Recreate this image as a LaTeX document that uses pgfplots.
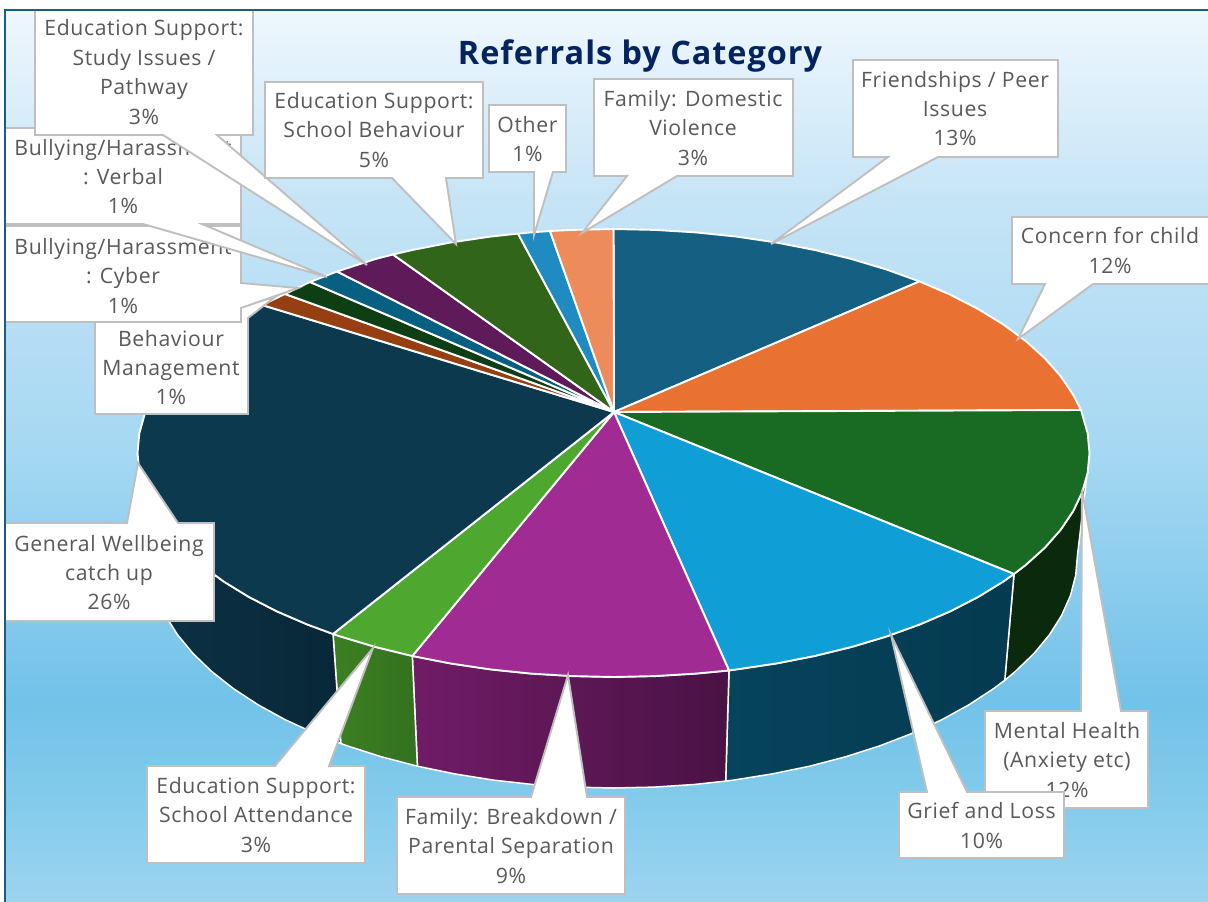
\documentclass[border=0pt]{standalone}
\usepackage{pgfplots}
\pgfplotsset{compat=1.18}
\usepackage{fontspec}
\setmainfont[LetterSpace=3]{Open Sans}
\definecolor{c1}{HTML}{156082}
\definecolor{c2}{HTML}{E97132}
\definecolor{c3}{HTML}{196B24}
\definecolor{c4}{HTML}{0F9ED5}
\definecolor{c5}{HTML}{A02B93}
\definecolor{c6}{HTML}{4EA72E}
\definecolor{c7}{HTML}{0D394E}
\definecolor{c8}{HTML}{953F12}
\definecolor{c9}{HTML}{0E3F14}
\definecolor{c10}{HTML}{075F82}
\definecolor{c11}{HTML}{5F1A59}
\definecolor{c12}{HTML}{30651A}
\definecolor{c13}{HTML}{1F8BC0}
\definecolor{c14}{HTML}{EE8B5B}
\definecolor{cg}{HTML}{BFBFBF}
\definecolor{tx}{HTML}{595959}
\definecolor{ttl}{HTML}{03245F}
\definecolor{bga}{HTML}{9DD4F0}
\definecolor{bgb}{HTML}{83CBEB}
\definecolor{bgc}{HTML}{72C2E9}
\definecolor{bgd}{HTML}{A6D8F2}
\definecolor{bge}{HTML}{C6E4F6}
\definecolor{bgf}{HTML}{EFF7FD}
\definecolor{wallg}{HTML}{0B2A0D}
\definecolor{wallba}{HTML}{05445C}
\definecolor{wallbb}{HTML}{053A50}
\definecolor{wallpa}{HTML}{701C66}
\definecolor{wallpb}{HTML}{4A1245}
\definecolor{wallla}{HTML}{3C8021}
\definecolor{walllb}{HTML}{33711F}
\definecolor{wallda}{HTML}{0C3146}
\definecolor{walldb}{HTML}{082838}
\pgfdeclareverticalshading{bgshade}{100bp}{
 color(0bp)=(bga);
 color(25bp)=(bga);
 color(30.7bp)=(bgb);
 color(36.3bp)=(bgc);
 color(50.3bp)=(bgd);
 color(64.4bp)=(bge);
 color(75bp)=(bgf);
 color(100bp)=(bgf)}
\tikzset{
 slice/.style={draw=white,line width=1.9pt,line join=round},
 wall/.style={shade,draw=white,line width=1.5pt,line join=round},
 call/.style={fill=white,draw=cg,line width=1.9pt,line join=miter},
 lab/.style={align=center,text=tx,font=\fontsize{21.2}{29.4}\selectfont,inner sep=0pt},
}
\begin{document}
\begin{tikzpicture}
\begin{axis}[
 width=1208pt,height=902pt,scale only axis,
 xmin=0,xmax=1208,ymin=0,ymax=902,y dir=reverse,
 hide axis,clip=true]
% background
\fill[white] (axis cs:0,0) rectangle (axis cs:1208,902);
\path[shading=bgshade] (axis cs:5,10) rectangle (axis cs:1208,902);
% walls
\addplot[wall,left color=wallg,right color=wallg] coordinates {
(1089.5,453)(1087.7,472.5)(1082.3,491.9)(1073.3,511)(1060.8,529.6)(1044.9,547.7)(1025.7,565)(1014,574)
(1004.8,680.2)(1015.3,671.5)(1034,653.5)(1049.5,634.7)(1061.7,615.3)(1070.5,595.5)(1075.7,575.3)(1077.5,555)} --cycle;
\addplot[wall,left color=wallba,right color=wallbb] coordinates {
(1014,574)(1003.4,581.5)(978.1,597)(950.1,611.4)(919.5,624.6)(886.5,636.5)(851.5,647)(814.7,656)(776.3,663.5)(736.7,669.4)(729,670.5)
(725.7,781.1)(733.6,780.1)(772.2,773.9)(809.6,766.2)(845.5,756.8)(879.6,745.9)(911.8,733.5)(941.6,719.8)(968.9,704.8)(993.6,688.6)(1004.8,680.2)} --cycle;
\addplot[wall,left color=wallpa,right color=wallpb] coordinates {
(729,670.5)(696.1,673.6)(655,676.1)(613.5,677)(572,676.1)(530.9,673.6)(490.3,669.4)(450.7,663.5)(412.3,656)
(417.4,766.2)(454.8,773.9)(493.4,780.1)(532.9,784.5)(573.1,787.1)(613.5,788)(653.9,787.1)(694.1,784.5)(725.7,781.1)} --cycle;
\addplot[wall,left color=wallla,right color=walllb] coordinates {
(412.3,656)(375.5,647)(340.5,636.5)(333,634)(340.8,743.5)(347.4,745.9)(381.5,756.8)(417.4,766.2)} --cycle;
\addplot[wall,left color=wallda,right color=walldb] coordinates {
(333,634)(307.5,624.6)(276.9,611.4)(248.9,597)(223.6,581.5)(201.3,565)(182.1,547.7)(166.2,529.6)(153.7,511)(144.7,491.9)(139.3,472.5)(137.5,453)
(149.5,555)(151.3,575.3)(156.5,595.5)(165.3,615.3)(177.5,634.7)(193,653.5)(211.7,671.5)(233.4,688.6)(258.1,704.8)(285.4,719.8)(315.2,733.5)(340.8,743.5)} --cycle;
% top slices
\addplot[slice,fill=c1] coordinates {(614,412)(613.5,229)(655,229.9)(696.1,232.4)(736.7,236.6)(776.3,242.5)(814.7,250)(851.5,259)(886.5,269.5)(919.5,281.4)} --cycle;
\addplot[slice,fill=c2] coordinates {(614,412)(919.5,281.4)(950.1,294.6)(978.1,309)(1003.4,324.5)(1025.7,341)(1044.9,358.3)(1060.8,376.4)(1073.3,395)(1081,410)} --cycle;
\addplot[slice,fill=c3] coordinates {(614,412)(1081,410)(1087.7,433.5)(1089.5,453)(1087.7,472.5)(1082.3,491.9)(1073.3,511)(1060.8,529.6)(1044.9,547.7)(1025.7,565)(1014,574)} --cycle;
\addplot[slice,fill=c4] coordinates {(614,412)(1014,574)(1003.4,581.5)(978.1,597)(950.1,611.4)(919.5,624.6)(886.5,636.5)(851.5,647)(814.7,656)(776.3,663.5)(736.7,669.4)(729,670.5)} --cycle;
\addplot[slice,fill=c5] coordinates {(614,412)(729,670.5)(696.1,673.6)(655,676.1)(613.5,677)(572,676.1)(530.9,673.6)(490.3,669.4)(450.7,663.5)(412.3,656)} --cycle;
\addplot[slice,fill=c6] coordinates {(614,412)(412.3,656)(375.5,647)(340.5,636.5)(333,634)} --cycle;
\addplot[slice,fill=c7] coordinates {(614,412)(333,634)(307.5,624.6)(276.9,611.4)(248.9,597)(223.6,581.5)(201.3,565)(182.1,547.7)(166.2,529.6)(153.7,511)(144.7,491.9)(139.3,472.5)(137.5,453)(139.3,433.5)(144.7,414.1)(153.7,395)(166.2,376.4)(182.1,358.3)(201.3,341)(223.6,325.5)(242,316)(262,305)} --cycle;
\addplot[slice,fill=c8] coordinates {(614,412)(262,305)(285,294)} --cycle;
\addplot[slice,fill=c9] coordinates {(614,412)(285,294)(310,282)} --cycle;
\addplot[slice,fill=c10] coordinates {(614,412)(310,282)(337,271.5)} --cycle;
\addplot[slice,fill=c11] coordinates {(614,412)(337,271.5)(375.5,259)(393,254.5)} --cycle;
\addplot[slice,fill=c12] coordinates {(614,412)(393,254.5)(412.3,250)(450.7,242.5)(490.3,236.6)(518,233.6)} --cycle;
\addplot[slice,fill=c13] coordinates {(614,412)(518,233.6)(530.9,232.4)(550,231)} --cycle;
\addplot[slice,fill=c14] coordinates {(614,412)(550,231)(572,229.9)(613.5,229)} --cycle;
% title
\node[text=ttl,font=\fontsize{32.4}{40}\selectfont\bfseries,inner sep=0pt] at (axis cs:640,56) {Referrals by Category};
% callouts
\addplot[call] coordinates {(95,318)(200,318)(275,297)(248,318)(248,414)(95,414)} --cycle;
\node[lab] at (axis cs:171,367.5) {Behaviour\\Management\\1\%};
\addplot[call] coordinates {(5,226)(241,226)(241,283)(298,288)(241,308)(241,322)(5,322)} --cycle;
\node[lab] at (axis cs:123,276) {Bullying/Harassment\\: Cyber\\1\%};
\addplot[call] coordinates {(5,128)(241,128)(241,224)(202,224)(327,277)(143,224)(5,224)} --cycle;
\node[lab] at (axis cs:123,176.5) {Bullying/Harassment\\: Verbal\\1\%};
\addplot[call] coordinates {(35,10)(253,10)(253,135)(217,135)(367,265)(163,135)(35,135)} --cycle;
\node[lab] at (axis cs:144,72) {Education Support:\\Study Issues /\\Pathway\\3\%};
\addplot[call] coordinates {(265,82)(483,82)(483,178)(446,178)(456,244)(392,178)(265,178)} --cycle;
\node[lab] at (axis cs:374,130) {Education Support:\\School Behaviour\\5\%};
\addplot[call] coordinates {(489,105)(566,105)(566,172)(553,172)(534,235)(534,172)(489,172)} --cycle;
\node[lab] at (axis cs:527.5,139) {Other\\1\%};
\addplot[call] coordinates {(594,79)(793,79)(793,176)(677,176)(582,233)(627,176)(594,176)} --cycle;
\node[lab] at (axis cs:693,128) {Family: Domestic\\Violence\\3\%};
\addplot[call] coordinates {(853,60)(1058,60)(1058,157)(938,157)(771,244)(888,157)(853,157)} --cycle;
\node[lab] at (axis cs:955,108.5) {Friendships / Peer\\Issues\\13\%};
\addplot[call] coordinates {(1012,217)(1215,217)(1215,284)(1093,284)(1018,339)(1045,284)(1012,284)} --cycle;
\node[lab] at (axis cs:1110,250.5) {Concern for child\\12\%};
\addplot[call] coordinates {(985,711)(1081,711)(1082,490)(1121,711)(1148,711)(1148,808)(985,808)} --cycle;
\node[lab] at (axis cs:1067,760) {Mental Health\\(Anxiety etc)\\12\%};
\addplot[call] coordinates {(899,792)(927,792)(891,635)(967,792)(1064,792)(1064,858)(899,858)} --cycle;
\node[lab] at (axis cs:981.5,825.5) {Grief and Loss\\10\%};
\addplot[call] coordinates {(5,523)(127,523)(138,463)(178,523)(214,523)(214,621)(5,621)} --cycle;
\node[lab] at (axis cs:109,572.5) {General Wellbeing\\catch up\\26\%};
\addplot[call] coordinates {(147,766)(275,766)(373,648)(329,766)(365,766)(365,863)(147,863)} --cycle;
\node[lab] at (axis cs:256,815) {Education Support:\\School Attendance\\3\%};
\addplot[call] coordinates {(397,797)(531,797)(568,675)(587,797)(625,797)(625,894)(397,894)} --cycle;
\node[lab] at (axis cs:511,846) {Family: Breakdown /\\Parental Separation\\9\%};
% chart frame
\addplot[draw=c1,line width=2pt] coordinates {(4.5,902) (4.5,9.5) (1208,9.5)};
\end{axis}
\end{tikzpicture}
\end{document}
